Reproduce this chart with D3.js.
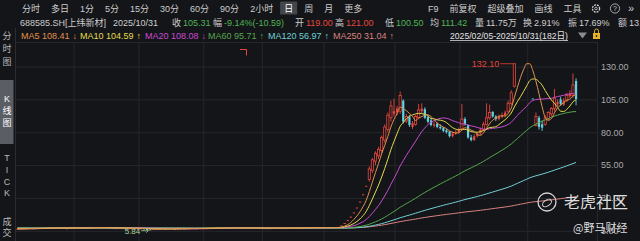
<!DOCTYPE html>
<html>
<head>
<meta charset="utf-8">
<script src="https://cdn.jsdelivr.net/npm/d3@7"></script>
<style>
  html, body { margin: 0; padding: 0; background: #141519; overflow: hidden; }
  svg { display: block; font-family: "Liberation Sans", "Noto Sans CJK SC", sans-serif; }
</style>
</head>
<body>
<div id="chart"></div>
<script>
// daily closes before the visible range (used only to warm up the long MAs)
const priorCloses = [
  7.48, 7.62, 7.75, 7.83, 7.70, 7.92, 8.05, 7.96, 7.88, 7.74, 7.81, 7.66, 7.58, 7.63, 7.52, 7.45, 7.57, 7.61, 7.50, 7.42,
  7.38, 7.46, 7.55, 7.49, 7.40, 7.33, 7.28, 7.36, 7.42, 7.35, 7.30, 7.22, 7.26, 7.18, 7.12, 7.20, 7.25, 7.16, 7.08, 7.02,
  6.95, 7.05, 7.10, 6.98, 6.90, 6.86, 6.92, 6.80, 6.74, 6.82, 6.88, 6.76, 6.70, 6.64, 6.58, 6.66, 6.72, 6.60, 6.55, 6.62,
  6.68, 6.74, 6.70, 6.58, 6.50, 6.46, 6.42, 6.48
];

// [open, high, low, close]; null = trading halted
const bars = [
  // Feb
  [6.48,6.58,6.42,6.52],[6.50,6.66,6.47,6.61],[6.60,6.75,6.56,6.70],[6.72,6.90,6.68,6.85],[6.84,6.98,6.78,6.92],
  [6.93,6.95,6.75,6.80],[6.80,6.92,6.74,6.88],[6.86,7.10,6.84,7.05],[7.04,7.18,6.98,7.12],[7.10,7.12,6.92,6.98],
  [6.97,7.25,6.95,7.20],[7.22,7.40,7.15,7.34],[7.32,7.36,7.18,7.25],[7.24,7.28,7.05,7.10],[7.08,7.22,7.04,7.18],
  [7.16,7.19,6.98,7.02],[7.00,7.06,6.90,6.95],[6.96,7.12,6.92,7.08],
  // Mar
  [7.08,7.20,7.02,7.15],[7.14,7.28,7.10,7.22],[7.20,7.36,7.16,7.30],[7.30,7.48,7.26,7.41],[7.42,7.45,7.30,7.36],
  [7.35,7.38,7.22,7.28],[7.28,7.50,7.25,7.45],[7.44,7.60,7.40,7.52],[7.50,7.54,7.36,7.40],[7.40,7.44,7.28,7.33],
  [7.32,7.36,7.20,7.25],[7.24,7.28,7.12,7.18],[7.18,7.22,7.05,7.10],[7.10,7.14,7.00,7.05],[7.04,7.08,6.94,6.98],
  [6.98,7.10,6.95,7.04],[7.03,7.06,6.92,6.96],[6.95,6.98,6.84,6.88],[6.88,6.98,6.85,6.92],[6.92,6.95,6.82,6.85],
  [6.85,6.88,6.76,6.80],
  // Apr
  [6.80,6.84,6.68,6.72],[6.72,6.85,6.70,6.78],[6.76,6.80,6.55,6.60],[6.40,6.45,6.02,6.12],[6.05,6.10,5.84,5.98],
  [6.00,6.30,5.96,6.25],[6.26,6.42,6.20,6.38],[6.38,6.50,6.32,6.45],[6.45,6.58,6.40,6.52],[6.52,6.55,6.42,6.48],
  [6.48,6.60,6.45,6.55],[6.55,6.68,6.52,6.62],[6.62,6.65,6.52,6.58],[6.58,6.70,6.55,6.66],[6.66,6.76,6.62,6.70],
  [6.70,6.73,6.60,6.64],[6.64,6.78,6.62,6.72],[6.72,6.85,6.68,6.80],[6.80,6.92,6.76,6.86],[6.86,6.88,6.74,6.78],
  [6.78,6.95,6.75,6.90],
  // May
  [6.90,7.00,6.86,6.95],[6.95,7.08,6.92,7.02],[7.02,7.15,6.98,7.10],[7.10,7.12,7.00,7.05],[7.05,7.22,7.02,7.18],
  [7.18,7.30,7.14,7.25],[7.25,7.28,7.15,7.20],[7.20,7.38,7.18,7.32],[7.32,7.35,7.24,7.28],[7.28,7.30,7.12,7.15],
  [7.15,7.26,7.12,7.22],[7.22,7.35,7.20,7.30],[7.30,7.32,7.22,7.26],[7.26,7.28,7.15,7.18],[7.18,7.20,7.08,7.12],
  [7.12,7.14,7.04,7.08],[7.08,7.20,7.05,7.15],[7.15,7.25,7.12,7.20],[7.20,7.22,7.08,7.11],
  // Jun
  [7.11,7.14,7.02,7.05],[7.05,7.08,6.96,7.00],[7.00,7.02,6.92,6.96],[6.96,7.06,6.94,7.02],[7.02,7.12,7.00,7.08],
  [7.08,7.18,7.05,7.14],[7.14,7.16,7.06,7.10],[7.10,7.12,7.02,7.06],[7.06,7.16,7.04,7.12],[7.12,7.22,7.10,7.18],
  [7.18,7.28,7.15,7.24],[7.24,7.26,7.16,7.20],[7.20,7.32,7.18,7.28],[7.28,7.40,7.25,7.35],[7.35,7.37,7.26,7.30],
  [7.30,7.32,7.22,7.26],[7.26,7.36,7.24,7.32],[7.32,7.45,7.30,7.40],[7.40,7.52,7.38,7.45],[7.45,7.48,7.35,7.38],
  // Jul
  [7.38,7.46,7.34,7.42],[7.42,7.55,7.40,7.50],[7.50,7.52,7.42,7.46],[7.46,7.60,7.44,7.55],[7.55,7.65,7.50,7.60],
  [7.60,7.68,7.55,7.62],
  [9.14,9.14,9.14,9.14],[10.97,10.97,10.97,10.97],[13.16,13.16,13.16,13.16],[15.79,15.79,15.79,15.79],
  [18.95,18.95,18.95,18.95],[22.74,22.74,22.74,22.74],[27.29,27.29,27.29,27.29],[32.75,32.75,32.75,32.75],
  [39.30,39.30,39.30,39.30],
  [44.0,54.0,42.5,52.0],[51.0,60.5,49.0,59.0],[58.0,65.5,55.0,64.0],[62.0,69.0,59.5,67.0],
  [66.0,77.5,64.0,76.0],[74.0,86.0,72.0,84.0],[82.0,95.0,80.0,93.0],[91.0,104.0,88.0,100.0],
  // Aug
  [94.0,105.5,92.0,96.0],[95.0,100.0,93.0,98.0],[96.0,111.0,94.0,108.0],[104.0,105.0,86.5,88.0],
  [88.5,94.0,87.0,92.0],[91.5,93.0,84.0,85.5],[84.0,88.5,82.5,87.0],[86.0,93.0,85.0,92.0],
  [91.0,101.5,90.0,97.0],[96.0,102.0,94.0,98.0],[97.5,99.0,90.0,91.0],[91.5,93.0,87.0,88.0],
  [89.0,91.0,84.5,85.5],[85.0,88.0,83.5,86.0],[86.5,87.5,83.0,84.0],[84.0,86.0,82.0,83.0],
  [83.5,84.0,80.0,81.0],[81.5,82.5,79.0,80.0],[80.5,81.0,76.0,77.0],[77.0,80.5,76.0,79.0],
  [79.0,81.5,78.0,80.0],
  // Sep
  [80.0,83.5,79.0,82.0],[82.5,101.5,81.0,90.0],[90.0,91.5,85.0,86.0],[85.5,86.0,75.0,76.0],
  [76.0,78.0,73.0,74.0],[74.0,78.5,73.5,77.0],[77.0,80.0,76.0,79.0],[79.0,83.5,78.0,82.0],
  [82.0,88.0,81.0,86.0],[86.0,102.0,85.0,91.0],[91.0,101.0,89.5,95.0],[95.5,96.0,91.0,92.0],
  [92.0,93.0,88.5,90.0],[90.0,93.5,89.0,92.0],[92.0,95.0,90.5,93.0],[93.0,96.5,91.5,95.0],
  [95.5,104.0,95.0,102.0],[102.0,112.0,100.5,110.0],[115.0,132.1,114.0,132.1],
  null, null, null,
  // Oct
  null, null,
  [105.68,105.68,105.68,105.68],[85.0,95.0,84.5,92.0],[91.0,92.5,82.0,84.0],[86.0,89.0,81.0,83.5],
  [86.0,93.0,85.0,91.0],[90.0,96.0,89.0,95.0],[94.0,99.0,92.0,98.0],[98.0,113.0,96.0,106.0],
  [101.0,105.0,100.0,103.0],[105.0,107.0,100.0,101.5],[101.0,106.0,100.0,104.0],[104.0,110.0,103.0,108.0],
  [107.5,112.0,106.0,109.0],[108.0,124.7,106.0,115.9],[119.0,121.0,100.5,105.31]
];

// trading days per month in the range (for the month grid lines)
const monthDays = [["2025-02",18],["2025-03",21],["2025-04",21],["2025-05",19],["2025-06",20],
                   ["2025-07",23],["2025-08",21],["2025-09",22],["2025-10",17]];

const maPeriods = [5, 10, 20, 60, 120, 250];
const maReadout = [108.41, 104.59, 108.08, 95.71, 56.97, 31.04];
const priceTicks = [5, 30, 55, 80, 105, 130];

const tabs = ["分时","多日","1分","5分","15分","30分","60分","90分","2小时","日","周","月","更多"];
const activeTab = "日";
const tools = ["F9","前复权","超级叠加","画线","工具"];
const sideItems = [["分","时","图"], ["K","线","图"], ["T","I","C","K"], ["成","交"]];

const quoteCode = "688585.SH[上纬新材]";
const quoteDate = "2025/10/31";
const rangeText = "2025/02/05-2025/10/31";
const quoteFields = [["收","105.31",-1],["幅","-9.14%(-10.59)",-1],["开","119.00",1],["高","121.00",1],
                     ["低","100.50",-1],["均","111.42",-1],["量","11.75万",0],["换","2.91%",0],
                     ["振","17.69%",0],["额","13.86亿",0]];

// ---- layout + styles
const quoteX = [172, 213, 295, 335, 385, 430, 475, 523, 568, 618];
const maX = [21, 80, 145, 208, 268, 333];
const BG = "#141519", GRID = "#26272c", TXT = "#cdcdcd", AXT = "#a9a9ab";
const UP = "#e5473d", DOWN = "#62d2e2", GREEN = "#4fb653";
const maColors = ["#e0924c", "#e4dc4c", "#c94bd0", "#55a54c", "#72d0d6", "#d9837f"];

const W = 640, H = 241;
const P = { left: 16, right: 597, top: 42, bottom: 241 };

const svg = d3.select("#chart").append("svg").attr("width", W).attr("height", H);
svg.append("rect").attr("width", W).attr("height", H).attr("fill", BG);

const x = d3.scaleBand().domain(d3.range(bars.length)).range([16, 577.6]);
const bw = x.bandwidth();
const cx = i => x(i) + bw / 2;
const y = d3.scaleLinear().domain([5, 130]).range([230.8, 66.5]);

// ---- grid + price axis
const monthStarts = [];
monthDays.reduce((s, m) => { monthStarts.push(s); return s + m[1]; }, 0);

svg.append("g")
  .attr("transform", `translate(0,${P.bottom})`)
  .call(d3.axisBottom(x).tickValues(monthStarts.slice(1)).tickSize(-(P.bottom - P.top)).tickFormat(""))
  .call(g => g.select(".domain").remove())
  .call(g => g.selectAll("line").attr("stroke", GRID).attr("transform", `translate(${bw / 2 - 0.5},0)`));

svg.append("g")
  .attr("transform", `translate(${P.right},0)`)
  .call(d3.axisRight(y).tickValues(priceTicks).tickSize(-(P.right - P.left)).tickPadding(4).tickFormat(d3.format(".2f")))
  .call(g => g.select(".domain").remove())
  .call(g => g.selectAll("line").attr("stroke", GRID))
  .call(g => g.selectAll("text").attr("fill", AXT).attr("font-size", 9)
                .attr("font-family", "Liberation Sans, sans-serif"));

svg.append("line").attr("x1", P.left).attr("x2", P.right).attr("y1", P.top + 0.5).attr("y2", P.top + 0.5).attr("stroke", GRID);
svg.append("line").attr("x1", P.right + 0.5).attr("x2", P.right + 0.5).attr("y1", P.top).attr("y2", H).attr("stroke", GRID);
svg.append("line").attr("x1", 15.5).attr("x2", 15.5).attr("y1", 28).attr("y2", H).attr("stroke", "#2b2c31");

// ---- candles
const data = bars.map((b, i) => ({ b, i })).filter(d => d.b);
const prevClose = d => { for (let k = d.i - 1; k >= 0; k--) if (bars[k]) return bars[k][3]; return priorCloses[priorCloses.length - 1]; };
const isUp = d => d.b[3] > d.b[0] || (d.b[3] === d.b[0] && d.b[3] >= prevClose(d));
const bodyH = d => Math.abs(y(d.b[0]) - y(d.b[3]));

const candles = svg.append("g").selectAll("g").data(data).join("g");
candles.append("line")
  .attr("x1", d => cx(d.i)).attr("x2", d => cx(d.i))
  .attr("y1", d => y(d.b[1])).attr("y2", d => y(d.b[2]))
  .attr("stroke", d => isUp(d) ? UP : DOWN).attr("stroke-width", 0.9);
candles.append("rect")
  .attr("x", d => cx(d.i) - 1.1).attr("width", 2.2)
  .attr("y", d => y(Math.max(d.b[0], d.b[3])))
  .attr("height", d => Math.max(1, bodyH(d)))
  .attr("fill", d => isUp(d) ? (bodyH(d) > 4 ? BG : UP) : DOWN)
  .attr("stroke", d => isUp(d) && bodyH(d) > 4 ? UP : "none")
  .attr("stroke-width", 0.8);

// ---- moving averages (halted days keep the last close)
const closes = [];
let last = priorCloses[priorCloses.length - 1];
bars.forEach(b => { if (b) last = b[3]; closes.push(last); });
const allCloses = priorCloses.concat(closes);
const off = priorCloses.length;
const movingAvg = n => closes.map((c, i) => d3.mean(allCloses.slice(Math.max(0, off + i + 1 - n), off + i + 1)));

const line = d3.line().x((d, i) => cx(i)).y(d => y(d)).curve(d3.curveMonotoneX);
maPeriods.slice().reverse().forEach(n => {
  const k = maPeriods.indexOf(n);
  svg.append("path").datum(movingAvg(n)).attr("d", line)
    .attr("fill", "none").attr("stroke", maColors[k]).attr("stroke-width", 1);
});

// ---- high / low markers
const hi = data[d3.maxIndex(data, d => d.b[1])], lo = data[d3.minIndex(data, d => d.b[2])];
svg.append("line").attr("x1", cx(hi.i) - 14).attr("x2", cx(hi.i) - 1).attr("y1", y(hi.b[1])).attr("y2", y(hi.b[1]))
  .attr("stroke", UP).attr("stroke-width", 0.8);
svg.append("text").attr("x", cx(hi.i) - 15).attr("y", y(hi.b[1])).attr("dy", "0.35em")
  .attr("text-anchor", "end").attr("font-size", 9).attr("fill", UP).text(d3.format(".2f")(hi.b[1]));
svg.append("line").attr("x1", cx(lo.i) - 9).attr("x2", cx(lo.i) - 2).attr("y1", y(lo.b[2]) + 1).attr("y2", y(lo.b[2]) + 1)
  .attr("stroke", "#a9d39b").attr("stroke-width", 0.8);
svg.append("path").attr("d", `M${cx(lo.i) - 4},${y(lo.b[2]) - 1} L${cx(lo.i) - 2},${y(lo.b[2]) + 1} L${cx(lo.i) - 4},${y(lo.b[2]) + 3}`)
  .attr("fill", "none").attr("stroke", "#a9d39b").attr("stroke-width", 0.8);
svg.append("text").attr("x", cx(lo.i) - 10).attr("y", y(lo.b[2]) + 1.5).attr("dy", "0.35em")
  .attr("text-anchor", "end").attr("font-size", 8).attr("fill", "#a9d39b").text(d3.format(".2f")(lo.b[2]));

// small drawing mark
svg.append("path").attr("d", "M240,49.5 H246.5 V55.5").attr("fill", "none").attr("stroke", UP).attr("stroke-width", 1);

// ---- top toolbar
function flow(g, items, x0, yc, gap) {
  let px = x0;
  items.forEach(it => {
    const t = g.append("text").attr("x", px).attr("y", yc).attr("dy", "0.35em")
      .attr("fill", it.color || TXT).attr("font-size", it.size || 9).text(it.text);
    const w = t.node().getComputedTextLength();
    if (it.onDraw) it.onDraw(px, w);
    px += w + (it.gap !== undefined ? it.gap : gap);
  });
  return px;
}

const bar1 = svg.append("g");
const tabLayer = bar1.append("g");
flow(bar1, tabs.map(t => ({
  text: t, color: t === activeTab ? "#ffffff" : TXT,
  onDraw: t === activeTab ? (px, w) => tabLayer.append("rect").attr("x", px - 4).attr("y", 1.5)
      .attr("width", w + 8).attr("height", 13).attr("fill", "#45464c") : null
})), 22, 8.5, 11);
flow(bar1, tools.map(t => ({ text: t })), 428, 8.5, 11);
bar1.append("circle").attr("cx", 596).attr("cy", 8.5).attr("r", 3.6).attr("fill", "none").attr("stroke", TXT).attr("stroke-width", 1.3).attr("stroke-dasharray", "2 0.9");
bar1.append("circle").attr("cx", 596).attr("cy", 8.5).attr("r", 1.3).attr("fill", "none").attr("stroke", TXT).attr("stroke-width", 0.8);
bar1.append("circle").attr("cx", 615).attr("cy", 8.5).attr("r", 4.6).attr("fill", "none").attr("stroke", TXT).attr("stroke-width", 0.8);
bar1.append("text").attr("x", 615).attr("y", 8.5).attr("dy", "0.35em").attr("text-anchor", "middle").attr("font-size", 7).attr("fill", TXT).text("?");
bar1.append("text").attr("x", 628).attr("y", 8.5).attr("dy", "0.35em").attr("font-size", 11).attr("fill", TXT).text("»");

// ---- quote row
const qRow = svg.append("g");
flow(qRow, [{ text: quoteCode, gap: 7 }, { text: quoteDate }], 20, 22.5, 0);
quoteFields.forEach((f, k) => {
  flow(qRow, [{ text: f[0], gap: 2 }, { text: f[1], color: f[2] < 0 ? GREEN : f[2] > 0 ? UP : TXT }], quoteX[k], 22.5, 0);
});

// ---- MA readout row
const lastClose = closes[closes.length - 1];
const maRow = svg.append("g");
maPeriods.forEach((n, k) => {
  flow(maRow, [
    { text: `MA${n} ${maReadout[k].toFixed(2)}`, color: maColors[k], gap: 3 },
    { text: lastClose < maReadout[k] ? "↓" : "↑", color: maColors[k] }
  ], maX[k], 35.5, 0);
});

const rng = svg.append("text").attr("x", 450).attr("y", 35.5).attr("dy", "0.35em").attr("font-size", 9).attr("fill", "#e2e2e2")
  .attr("textLength", 118).attr("lengthAdjust", "spacingAndGlyphs")
  .text(`${rangeText}(${bars.length}日)`);
svg.append("line").attr("x1", 450).attr("x2", 568).attr("y1", 40.5).attr("y2", 40.5).attr("stroke", "#d8d8d8").attr("stroke-width", 0.8);
svg.append("path").attr("d", "M578,32.5 L587,32.5 L582.5,38.5 Z").attr("fill", "#8a8b90");
svg.append("rect").attr("x", 593).attr("y", 33).attr("width", 7).attr("height", 6).attr("fill", "#e7b52c");
svg.append("rect").attr("x", 595.8).attr("y", 35).attr("width", 1.4).attr("height", 2).attr("fill", "#3a2c00");
svg.append("path").attr("d", "M594.5,33 V31 A2,2 0 0 1 598.5,31 V33").attr("fill", "none").attr("stroke", "#e7b52c").attr("stroke-width", 0.9);

// ---- left side bar
const side = svg.append("g").attr("font-size", 9).attr("text-anchor", "middle");
side.append("rect").attr("x", 0).attr("y", 80).attr("width", 13.5).attr("height", 64).attr("fill", "#5b5d65");
const sideTops = [36, 99, 158, 222], sideStep = [13, 11.7, 11.7, 11];
sideItems.forEach((chars, k) => {
  chars.forEach((c, j) => side.append("text").attr("x", 7).attr("y", sideTops[k] + j * sideStep[k]).attr("dy", "0.35em")
    .attr("fill", k === 1 ? "#ffffff" : "#b8b8b8").text(c));
});

// ---- watermark
const wm = svg.append("g");
wm.append("circle").attr("cx", 547).attr("cy", 202).attr("r", 9).attr("fill", "none").attr("stroke", "#d4d4d4").attr("stroke-width", 1.3);
wm.append("ellipse").attr("cx", 547).attr("cy", 203).attr("rx", 5).attr("ry", 3).attr("transform", "rotate(-35 547 203)")
  .attr("fill", "none").attr("stroke", "#d4d4d4").attr("stroke-width", 1);
wm.append("text").attr("x", 564).attr("y", 202).attr("dy", "0.36em").attr("font-size", 16).attr("fill", "#dedede")
  .attr("font-family", "Noto Sans CJK SC, sans-serif").text("老虎社区");
wm.append("text").attr("x", 573).attr("y", 228).attr("dy", "0.36em").attr("font-size", 11).attr("fill", "#dedede")
  .attr("font-family", "Noto Sans CJK SC, sans-serif").text("@野马财经");
</script>
</body>
</html>
